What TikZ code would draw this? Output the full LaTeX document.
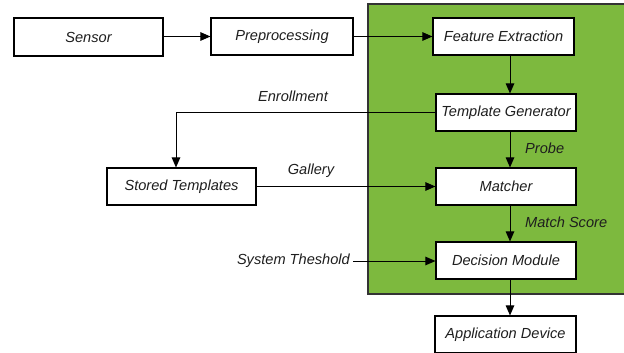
\documentclass[tikz,border=0pt]{standalone}
\usepackage{fontspec}
\setmainfont{Liberation Sans}
\usetikzlibrary{arrows.meta}
\definecolor{panelgreen}{HTML}{7DB93E}
\definecolor{edgegray}{HTML}{333333}
\definecolor{inkgray}{HTML}{1E1E1E}
\tikzset{
  blk/.style={draw=black, line width=1.1pt, fill=white, inner sep=0pt, text=inkgray,
    font=\fontsize{14.6}{17}\selectfont\itshape},
  lbl/.style={font=\fontsize{14.6}{17}\selectfont\itshape, inner sep=0pt, text=inkgray},
  flow/.style={line width=1pt, -{Triangle[length=10pt,width=8.5pt]}},
}
\begin{document}
\begin{tikzpicture}[x=1pt,y=-1pt]
\useasboundingbox (0,0) rectangle (624,353);
% processing panel
\fill[panelgreen] (368,4) rectangle (626,294);
\draw[edgegray, line width=1.3pt] (626,4) -- (368,4) -- (368,294) -- (626,294);

% blocks
\node[blk, minimum width=149pt, minimum height=38pt] (sensor) at (88.5,37) {Sensor};
\node[blk, minimum width=142pt, minimum height=37pt] (pre) at (282,36.5) {Preprocessing};
\node[blk, minimum width=141pt, minimum height=37pt] (fe) at (503.5,36.5) {Feature Extraction};
\node[blk, minimum width=140pt, minimum height=37pt] (tg) at (506,112.5) {Template Generator};
\node[blk, minimum width=140pt, minimum height=37pt] (match) at (506,186.5) {Matcher};
\node[blk, minimum width=140pt, minimum height=37pt] (dec) at (506,260.5) {Decision Module};
\node[blk, minimum width=141pt, minimum height=37pt] (app) at (505.5,334.5) {Application Device};
\node[blk, minimum width=149pt, minimum height=37pt] (stored) at (181.5,186.5) {Stored Templates};

% external input label
\node[lbl, anchor=east] (thr) at (350,261) {System Theshold};
\coordinate (bend) at (176,112.5);

% connectors
\draw[flow] (sensor.east |- pre.east) -- (pre.west);
\draw[flow] (pre.east) -- (fe.west |- pre.east);
\draw[flow] (fe.south -| 510,0) -- (tg.north -| 510,0);
\draw[flow] (tg.west) -- (bend) -- (stored.north -| bend);
\draw[flow] (stored) -- (match);
\draw[flow] (tg.south -| 510,0) -- (match.north -| 510,0);
\draw[flow] (match.south -| 510,0) -- (dec.north -| 510,0);
\draw[flow] ([xshift=3pt]thr.east) -- (dec.west |- thr.east);
\draw[flow] (dec.south -| 510,0) -- (app.north -| 510,0);

% connector labels
\node[lbl] (lenr) at (293,96) {Enrollment};
\node[lbl] (lgal) at (311,171) {Gallery};
\node[lbl, anchor=west] (lprobe) at (525,148) {Probe};
\node[lbl, anchor=west] (lscore) at (525,222) {Match Score};
\end{tikzpicture}
\end{document}
